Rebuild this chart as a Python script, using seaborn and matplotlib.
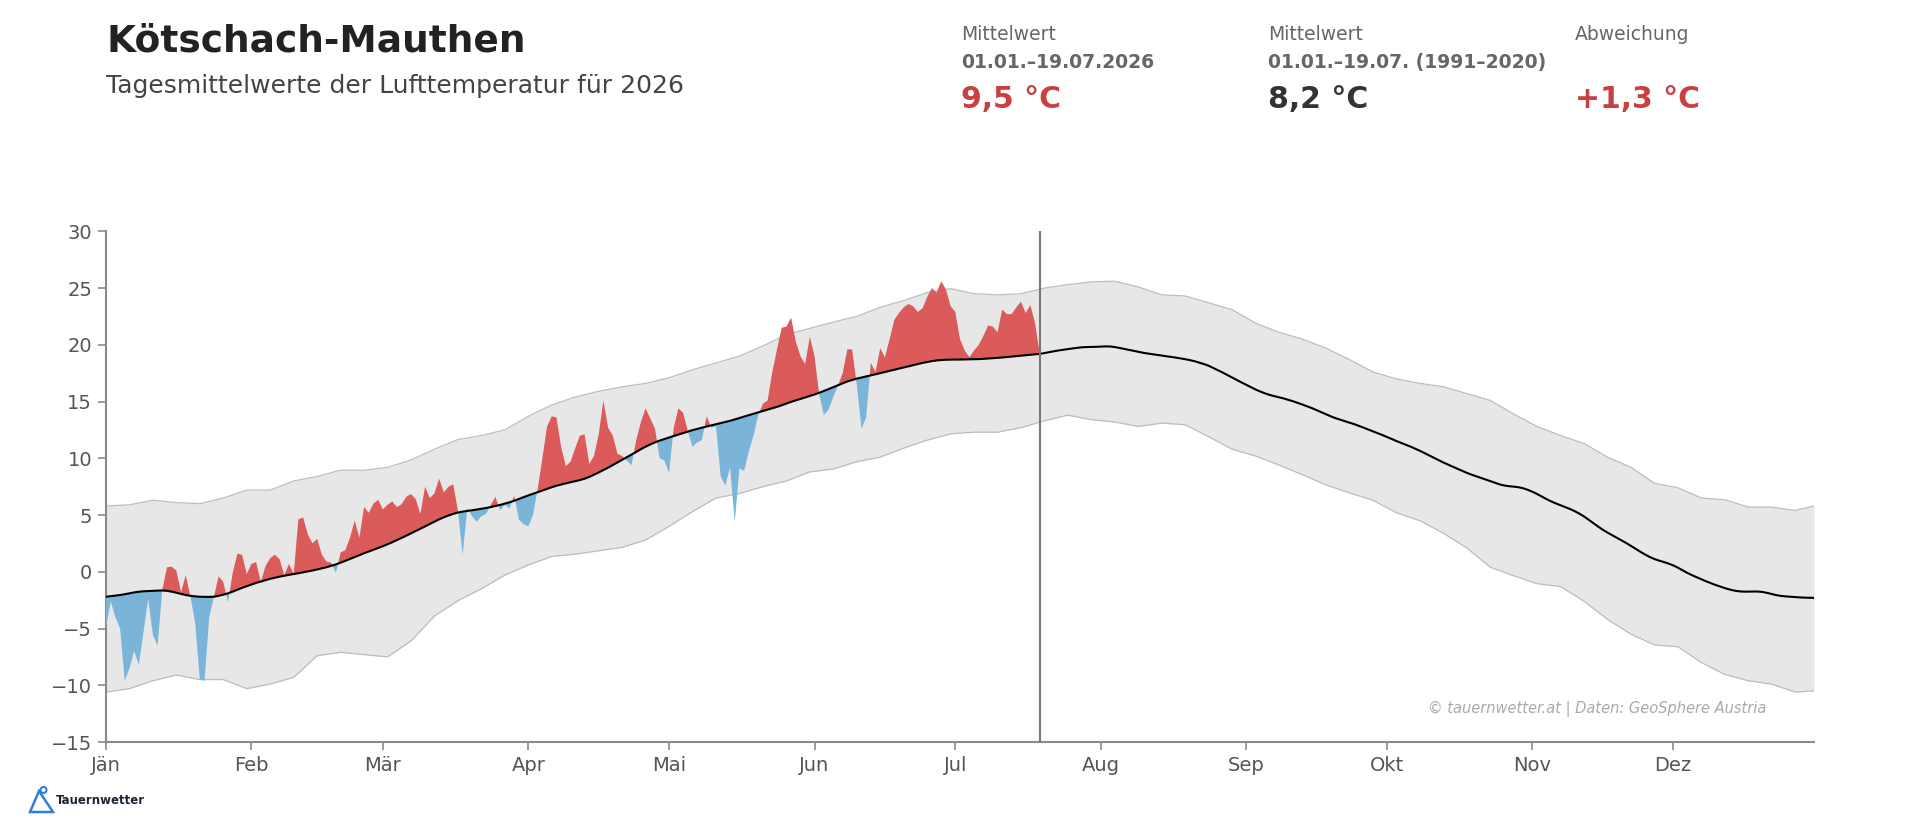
import numpy as np
import pandas as pd
import matplotlib
matplotlib.use("Agg")
import matplotlib.pyplot as plt
import matplotlib.patches as mpatches
import seaborn as sns

# ---------------- data ----------------
month_ticks = [0, 31, 59, 90, 120, 151, 181, 212, 243, 273, 304, 334]
month_labels = ["Jän", "Feb", "Mär", "Apr", "Mai", "Jun", "Jul", "Aug", "Sep", "Okt", "Nov", "Dez"]

# climatological daily mean 1991-2020 (day 0 = 1 Jan)
clim_mean = [
    -2.20, -2.15, -2.10, -2.05, -1.98, -1.90, -1.82, -1.76, -1.72, -1.70,
    -1.68, -1.66, -1.65, -1.68, -1.75, -1.85, -1.95, -2.05, -2.12, -2.17,
    -2.20, -2.21, -2.21, -2.20, -2.12, -2.02, -1.90, -1.75, -1.58, -1.42,
    -1.27, -1.12, -0.98, -0.86, -0.74, -0.62, -0.52, -0.43, -0.35, -0.27,
    -0.20, -0.13, -0.05, 0.03, 0.11, 0.20, 0.30, 0.40, 0.52, 0.65,
    0.80, 0.96, 1.13, 1.30, 1.47, 1.63, 1.79, 1.94, 2.09, 2.25,
    2.42, 2.60, 2.79, 2.98, 3.18, 3.38, 3.58, 3.79, 4.00, 4.21,
    4.42, 4.62, 4.80, 4.96, 5.10, 5.22, 5.30, 5.36, 5.42, 5.48,
    5.55, 5.62, 5.70, 5.79, 5.89, 6.00, 6.12, 6.26, 6.42, 6.58,
    6.73, 6.87, 7.00, 7.14, 7.30, 7.45, 7.58, 7.69, 7.79, 7.88,
    7.98, 8.08, 8.20, 8.36, 8.55, 8.75, 8.96, 9.17, 9.40, 9.63,
    9.86, 10.10, 10.33, 10.56, 10.80, 11.02, 11.22, 11.40, 11.56, 11.70,
    11.83, 11.96, 12.09, 12.22, 12.36, 12.48, 12.59, 12.70, 12.80, 12.90,
    13.00, 13.10, 13.20, 13.30, 13.42, 13.55, 13.68, 13.80, 13.92, 14.03,
    14.15, 14.27, 14.40, 14.53, 14.67, 14.82, 14.97, 15.10, 15.22, 15.35,
    15.48, 15.62, 15.77, 15.93, 16.10, 16.27, 16.45, 16.62, 16.77, 16.90,
    17.02, 17.12, 17.21, 17.30, 17.40, 17.50, 17.60, 17.70, 17.80, 17.90,
    18.00, 18.10, 18.20, 18.30, 18.40, 18.48, 18.56, 18.62, 18.66, 18.68,
    18.69, 18.70, 18.70, 18.71, 18.72, 18.73, 18.74, 18.76, 18.79, 18.82,
    18.85, 18.88, 18.92, 18.96, 19.00, 19.04, 19.08, 19.12, 19.16, 19.20,
    19.27, 19.35, 19.43, 19.50, 19.56, 19.62, 19.68, 19.73, 19.78, 19.80,
    19.81, 19.82, 19.84, 19.86, 19.85, 19.80, 19.72, 19.63, 19.55, 19.47,
    19.38, 19.30, 19.23, 19.17, 19.11, 19.05, 18.99, 18.93, 18.87, 18.80,
    18.73, 18.65, 18.55, 18.43, 18.30, 18.15, 17.95, 17.75, 17.55, 17.33,
    17.12, 16.90, 16.68, 16.47, 16.26, 16.06, 15.88, 15.72, 15.58, 15.47,
    15.37, 15.27, 15.15, 15.02, 14.88, 14.73, 14.58, 14.42, 14.24, 14.06,
    13.88, 13.70, 13.54, 13.40, 13.27, 13.14, 13.01, 12.86, 12.70, 12.54,
    12.38, 12.22, 12.05, 11.88, 11.70, 11.52, 11.36, 11.20, 11.03, 10.85,
    10.66, 10.46, 10.25, 10.04, 9.83, 9.63, 9.44, 9.26, 9.08, 8.90,
    8.72, 8.56, 8.42, 8.28, 8.14, 7.99, 7.84, 7.70, 7.60, 7.54,
    7.50, 7.45, 7.36, 7.22, 7.05, 6.85, 6.62, 6.40, 6.20, 6.02,
    5.86, 5.70, 5.53, 5.34, 5.12, 4.87, 4.58, 4.28, 3.98, 3.70,
    3.45, 3.22, 2.99, 2.76, 2.53, 2.28, 2.02, 1.76, 1.52, 1.30,
    1.12, 0.98, 0.86, 0.72, 0.56, 0.36, 0.13, -0.10, -0.30, -0.48,
    -0.66, -0.84, -1.00, -1.16, -1.30, -1.44, -1.56, -1.66, -1.72, -1.75,
    -1.75, -1.74, -1.74, -1.78, -1.86, -1.96, -2.06, -2.13, -2.17, -2.20,
    -2.23, -2.26, -2.28, -2.29, -2.30,
]

# climatological band (every 5 days)
band_days = [0, 5, 10, 15, 20, 25, 30, 35, 40, 45, 50, 55, 60, 65, 70, 75, 80, 85, 90, 95,
             100, 105, 110, 115, 120, 125, 130, 135, 140, 145, 150, 155, 160, 165, 170, 175,
             180, 185, 190, 195, 200, 205, 210, 215, 220, 225, 230, 235, 240, 245, 250, 255,
             260, 265, 270, 275, 280, 285, 290, 295, 300, 305, 310, 315, 320, 325, 330, 335,
             340, 345, 350, 355, 360, 364]
band_upper = [5.8, 5.9, 6.3, 6.1, 6.0, 6.5, 7.2, 7.2, 8.0, 8.4, 8.95, 8.95, 9.2, 9.85, 10.8, 11.65,
              12.0, 12.5, 13.7, 14.7, 15.4, 15.9, 16.3, 16.6, 17.1, 17.8, 18.4, 19.0, 19.9, 20.9,
              21.45, 22.0, 22.5, 23.3, 23.9, 24.6, 24.95, 24.5, 24.4, 24.5, 25.0, 25.3, 25.55, 25.6,
              25.1, 24.4, 24.3, 23.7, 23.1, 21.9, 21.1, 20.5, 19.7, 18.7, 17.6, 17.0, 16.6, 16.3,
              15.7, 15.1, 13.9, 12.8, 12.0, 11.3, 10.1, 9.2, 7.8, 7.4, 6.5, 6.35, 5.7, 5.7, 5.4, 5.8]
band_lower = [-10.6, -10.3, -9.6, -9.1, -9.5, -9.5, -10.3, -9.9, -9.3, -7.4, -7.1, -7.3, -7.5, -6.1,
              -3.9, -2.55, -1.5, -0.3, 0.6, 1.35, 1.55, 1.85, 2.15, 2.8, 4.0, 5.3, 6.5, 6.9, 7.5, 8.0,
              8.8, 9.05, 9.7, 10.1, 10.9, 11.6, 12.15, 12.3, 12.3, 12.7, 13.3, 13.8, 13.4, 13.2, 12.8,
              13.1, 12.95, 11.9, 10.8, 10.2, 9.4, 8.55, 7.65, 6.95, 6.3, 5.2, 4.5, 3.4, 2.1, 0.4,
              -0.35, -1.05, -1.3, -2.6, -4.2, -5.5, -6.45, -6.6, -8.0, -9.05, -9.6, -9.9, -10.6, -10.5]

# daily mean temperature 2026 (1 Jan .. 19 Jul)
temp_2026 = [
    -4.9, -2.6, -4.0, -5.0, -9.6, -8.5, -7.0, -8.2, -5.3, -2.4,
    -5.6, -6.5, -1.6, 0.4, 0.45, 0.1, -1.8, -0.3, -2.2, -4.5,
    -9.5, -9.6, -4.0, -2.2, -0.4, -0.9, -2.7, -0.1, 1.6, 1.5,
    -0.2, 0.7, 0.85, -0.9, 0.5, 1.2, 1.5, 1.1, -0.3, 0.7,
    -0.2, 4.6, 4.8, 3.3, 2.5, 2.9, 1.5, 0.9, 0.8, -0.1,
    1.7, 1.9, 3.0, 4.5, 3.0, 5.7, 5.2, 6.0, 6.35, 5.5,
    5.9, 6.2, 5.7, 5.95, 6.6, 6.85, 6.4, 5.1, 7.5, 6.5,
    6.9, 8.2, 7.0, 7.5, 7.7, 5.4, 1.5, 5.6, 4.9, 4.4,
    4.9, 5.1, 5.9, 6.6, 5.4, 5.9, 5.6, 6.7, 4.6, 4.2,
    4.0, 5.0, 7.3, 10.0, 12.8, 13.7, 13.6, 11.0, 9.3, 9.7,
    10.9, 12.0, 12.1, 9.5, 10.2, 12.1, 15.1, 12.7, 12.0, 10.4,
    10.2, 9.8, 9.4, 11.6, 13.2, 14.4, 13.5, 12.6, 10.0, 9.8,
    8.7, 12.7, 14.4, 14.0, 12.4, 11.0, 11.4, 11.6, 13.7, 12.7,
    12.8, 8.4, 7.6, 9.2, 4.4, 9.1, 8.9, 10.6, 12.0, 13.8,
    14.8, 15.1, 17.6, 19.6, 21.5, 21.6, 22.4, 20.3, 19.0, 18.3,
    20.7, 19.0, 15.6, 13.8, 14.3, 15.4, 16.4, 17.5, 19.6, 19.6,
    16.5, 12.6, 13.6, 18.4, 17.6, 19.7, 18.9, 20.5, 22.2, 22.8,
    23.3, 23.6, 23.4, 22.9, 23.2, 24.2, 25.0, 24.6, 25.6, 24.9,
    23.4, 22.9, 20.5, 19.5, 18.9, 19.5, 20.0, 20.8, 21.7, 21.6,
    21.1, 23.1, 22.7, 22.7, 23.3, 23.8, 22.8, 23.5, 21.9, 19.2,
]

title = "Kötschach-Mauthen"
subtitle = "Tagesmittelwerte der Lufttemperatur für 2026"
stat_heads = ["Mittelwert", "Mittelwert", "Abweichung"]
stat_periods = ["01.01.–19.07.2026", "01.01.–19.07. (1991–2020)", ""]
stat_values = ["9,5 °C", "8,2 °C", "+1,3 °C"]
credit = "© tauernwetter.at | Daten: GeoSphere Austria"
cutoff_day = 199

# ---------------- style ----------------
sns.set_theme(style="white")
plt.rcParams["font.family"] = ["DejaVu Sans"]

RED = "#db5b5b"
BLUE = "#7ab5d9"
BAND = "#e7e7e7"
BAND_EDGE = "#bdbdbd"
AXIS = "#8a8a8a"
TICKTXT = "#555555"

fig = plt.figure(figsize=(19.2, 8.25), dpi=100)
ax = fig.add_axes([106 / 1920, 83 / 825, 1708 / 1920, 510.7 / 825])

clim_df = pd.DataFrame({"day": np.arange(len(clim_mean)), "mean": clim_mean})
band_df = pd.DataFrame({"day": band_days, "upper": band_upper, "lower": band_lower})
d26 = pd.DataFrame({"day": np.arange(len(temp_2026)), "t": temp_2026})
d26["clim"] = clim_df["mean"].iloc[: len(d26)].values

# band
ax.fill_between(band_df["day"], band_df["lower"], band_df["upper"], color=BAND, lw=0, zorder=1)
sns.lineplot(data=band_df, x="day", y="upper", color=BAND_EDGE, lw=0.9, ax=ax, zorder=2)
sns.lineplot(data=band_df, x="day", y="lower", color=BAND_EDGE, lw=0.9, ax=ax, zorder=2)

# anomalies
t = d26["t"].values
c = d26["clim"].values
ax.fill_between(d26["day"], c, t, where=t >= c, interpolate=True, color=RED, lw=0, zorder=3)
ax.fill_between(d26["day"], c, t, where=t <= c, interpolate=True, color=BLUE, lw=0, zorder=3)

# climatological mean
sns.lineplot(data=clim_df, x="day", y="mean", color="black", lw=1.5, ax=ax, zorder=4)

# today line
ax.axvline(cutoff_day, color="#777777", lw=1.5, zorder=5)

ax.set_xlim(0, 364)
ax.set_ylim(-15, 30)
ax.set_xticks(month_ticks)
ax.set_xticklabels(month_labels)
ax.set_yticks(np.arange(-15, 31, 5))
ax.set_xlabel("")
ax.set_ylabel("")
for s in ["top", "right"]:
    ax.spines[s].set_visible(False)
for s in ["left", "bottom"]:
    ax.spines[s].set_color(AXIS)
    ax.spines[s].set_linewidth(1.5)
ax.tick_params(axis="both", which="major", length=6, width=1.2, color=AXIS,
               labelsize=14, labelcolor=TICKTXT, pad=4, bottom=True, left=True)

# ---------------- header ----------------
fig.text(106 / 1920, 1 - 42 / 825, title, fontsize=27, fontweight="bold", color="#222222",
         va="center", ha="left")
fig.text(106 / 1920, 1 - 86 / 825, subtitle, fontsize=18, color="#444444",
         va="center", ha="left")

col_x = [961, 1268, 1575]
val_colors = ["#c94040", "#333333", "#c94040"]
for x, h, p, v, vc in zip(col_x, stat_heads, stat_periods, stat_values, val_colors):
    fig.text(x / 1920, 1 - 34 / 825, h, fontsize=13.5, color="#666666", va="center", ha="left")
    if p:
        fig.text(x / 1920, 1 - 62.5 / 825, p, fontsize=13.5, fontweight="bold", color="#666666",
                 va="center", ha="left")
    fig.text(x / 1920, 1 - 100 / 825, v, fontsize=21.5, fontweight="bold", color=vc,
             va="center", ha="left")

# credit
fig.text(1766 / 1920, 1 - 709 / 825, credit, fontsize=10.5, style="italic", color="#aaaaaa",
         va="center", ha="right")

# logo
tri = mpatches.Polygon([(30 / 1920, 1 - 812 / 825), (53 / 1920, 1 - 812 / 825),
                        (39 / 1920, 1 - 791 / 825)], closed=True, fill=False,
                       edgecolor="#2f7de1", lw=1.8, transform=fig.transFigure)
fig.patches.append(tri)
circ = mpatches.Ellipse((43.5 / 1920, 1 - 790 / 825), 6 / 1920, 6 / 825, fill=False,
                        edgecolor="#2f7de1", lw=1.5, transform=fig.transFigure)
fig.patches.append(circ)
fig.text(56 / 1920, 1 - 801 / 825, "Tauernwetter", fontsize=8.5, fontweight="bold",
         color="#1c2533", va="center", ha="left")

fig.savefig("out.png", dpi=100)
